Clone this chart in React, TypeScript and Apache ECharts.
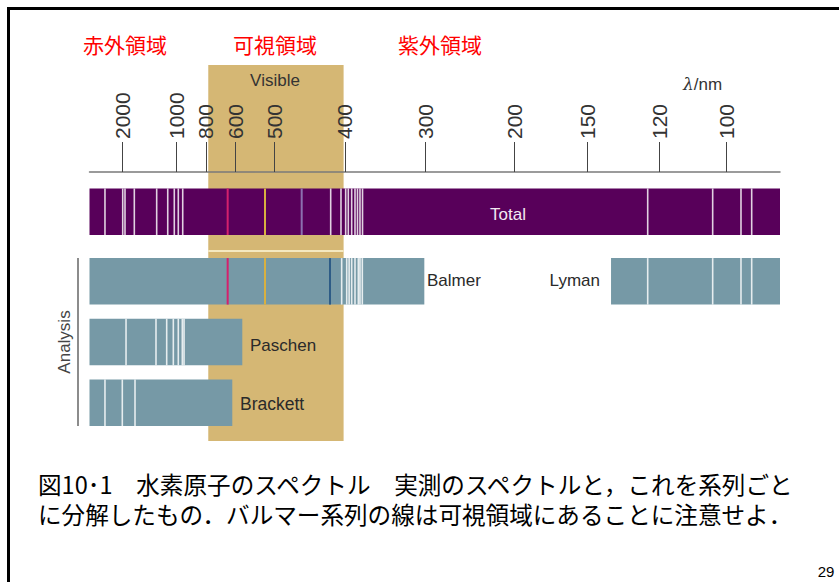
import React, { useEffect, useRef } from "react";
import * as echarts from "echarts";

// ---- data (positions along the spectrum strip, 0 = left end, 100 = right end) ----
const tickLabels = ["2000", "1000", "800", "600", "500", "400", "300", "200", "150", "120", "100"];
const tickPositions = [4.75, 12.63, 16.87, 21.17, 26.76, 37.0, 48.69, 61.52, 72.09, 82.52, 92.18];
const visibleRange = [17.2, 36.8];

const rows = ["Balmer", "Paschen", "Brackett"];

const totalRange = [0, 100];
const totalLines = [2.24, 4.81, 5.14, 6.49, 9.73, 11.33, 12.28, 12.86, 13.5, 34.93, 36.42, 37.1, 37.48, 37.97, 38.45, 38.81, 39.17, 39.54, 80.84, 90.25, 94.35, 95.9];
const totalColoredLines = [20.01, 25.42, 30.73];

const balmerRange = [0, 48.49];
const balmerLines = [36.52, 37.25, 37.6, 37.97, 38.45, 38.93, 39.17, 39.51];
const balmerColoredLines = [20.01, 25.42, 34.83];

const lymanRange = [75.53, 100];
const lymanLines = [80.84, 90.25, 94.35, 95.9];

const paschenRange = [0, 22.13];
const paschenLines = [5.29, 9.63, 11.18, 12.14, 12.86, 13.44, 13.69];

const brackettRange = [0, 20.68];
const brackettLines = [2.24, 4.75, 6.59];

const captionLines = [
  "図10･1　水素原子のスペクトル　実測のスペクトルと，これを系列ごと",
  "に分解したもの．バルマー系列の線は可視領域にあることに注意せよ．",
];

// ---- styles ----
const PURPLE = "#58005a";
const TEAL = "#7699a6";
const TAN = "#d5b774";
const WHITE_LINE = "rgba(255,255,255,0.82)";
const totalColors = ["#d4206c", "#d9b040", "#8c70b0"];
const balmerColors = ["#d4206c", "#d9b040", "#2e5c86"];
const BAR_RATIO = 0.766;
const LATIN = "'Liberation Sans', Arial, sans-serif";
const CJK = "'Noto Sans CJK JP', sans-serif";

function bandSeries(grid: number, range: number[], row: number, color: string, z = 2) {
  return {
    type: "custom",
    xAxisIndex: grid,
    yAxisIndex: grid,
    z,
    silent: true,
    data: [[range[0], range[1], row]],
    renderItem: (params: any, api: any) => {
      const s = api.coord([api.value(0), api.value(2)]);
      const e = api.coord([api.value(1), api.value(2)]);
      const h = api.size([0, 1])[1] * BAR_RATIO;
      return {
        type: "rect",
        shape: { x: s[0], y: s[1] - h / 2, width: e[0] - s[0], height: h },
        style: { fill: color },
      };
    },
  };
}

function lineSeries(grid: number, positions: number[], row: number, colors: string[] | string, width: number, z = 3) {
  return {
    type: "custom",
    xAxisIndex: grid,
    yAxisIndex: grid,
    z,
    silent: true,
    data: positions.map((p) => [p, row]),
    renderItem: (params: any, api: any) => {
      const c = api.coord([api.value(0), api.value(1)]);
      const h = api.size([0, 1])[1] * BAR_RATIO;
      const fill = Array.isArray(colors) ? colors[params.dataIndex] : colors;
      return {
        type: "rect",
        shape: { x: c[0] - width / 2, y: c[1] - h / 2, width, height: h },
        style: { fill },
      };
    },
  };
}

export default function App() {
  const ref = useRef<HTMLDivElement>(null);
  useEffect(() => {
    if (!ref.current) return;
    const chart = echarts.init(ref.current, undefined, { renderer: "svg" });
    const gridBase = { left: 89.5, right: 59 };
    const xBase = { type: "value", min: 0, max: 100, show: false };
    const option: any = {
      animation: false,
      backgroundColor: "#ffffff",
      grid: [
        { ...gridBase, top: 172, height: 20 },
        { ...gridBase, top: 65, height: 376 },
        { ...gridBase, top: 181.4, height: 60.7 },
        { ...gridBase, top: 251, height: 182.1 },
      ],
      xAxis: [
        {
          gridIndex: 0,
          type: "value",
          min: 0,
          max: 100,
          position: "top",
          z: 5,
          axisLine: { show: true, onZero: false, lineStyle: { color: "#7a7a7a", width: 1.5 } },
          axisTick: {
            show: true,
            customValues: tickPositions,
            length: 30,
            inside: false,
            lineStyle: { color: "#444", width: 1 },
          },
          axisLabel: {
            show: true,
            customValues: tickPositions,
            rotate: -90,
            margin: 33,
            fontSize: 21,
            fontFamily: LATIN,
            color: "#333",
            formatter: (v: number) => {
              const i = tickPositions.findIndex((p) => Math.abs(p - v) < 1e-6);
              return i >= 0 ? tickLabels[i] : "";
            },
          },
          splitLine: { show: false },
        },
        { ...xBase, gridIndex: 1 },
        { ...xBase, gridIndex: 2 },
        { ...xBase, gridIndex: 3 },
      ],
      yAxis: [
        { gridIndex: 0, type: "value", show: false },
        { gridIndex: 1, type: "value", min: 0, max: 1, show: false },
        { gridIndex: 2, type: "category", data: ["Total"], show: false },
        { gridIndex: 3, type: "category", data: rows, inverse: true, show: false },
      ],
      series: [
        // visible region
        {
          type: "custom",
          xAxisIndex: 1,
          yAxisIndex: 1,
          z: 1,
          silent: true,
          data: [[visibleRange[0], visibleRange[1]]],
          renderItem: (params: any, api: any) => {
            const a = api.coord([api.value(0), 1]);
            const b = api.coord([api.value(1), 0]);
            return {
              type: "rect",
              shape: { x: a[0], y: a[1], width: b[0] - a[0], height: b[1] - a[1] },
              style: { fill: TAN },
            };
          },
        },
        // pale divider inside visible region
        {
          type: "custom",
          xAxisIndex: 3,
          yAxisIndex: 3,
          z: 1.5,
          silent: true,
          data: [[visibleRange[0], visibleRange[1], 0]],
          renderItem: (params: any, api: any) => {
            const a = api.coord([api.value(0), 0]);
            const b = api.coord([api.value(1), 0]);
            const y = params.coordSys.y;
            return {
              type: "rect",
              shape: { x: a[0], y: y - 1, width: b[0] - a[0], height: 2 },
              style: { fill: "#f4e8c0" },
            };
          },
        },
        bandSeries(2, totalRange, 0, PURPLE),
        lineSeries(2, totalLines, 0, WHITE_LINE, 1.6),
        lineSeries(2, totalColoredLines, 0, totalColors, 2),
        bandSeries(3, balmerRange, rows.indexOf("Balmer"), TEAL),
        lineSeries(3, balmerLines, rows.indexOf("Balmer"), WHITE_LINE, 1.6),
        lineSeries(3, balmerColoredLines, rows.indexOf("Balmer"), balmerColors, 2),
        bandSeries(3, lymanRange, rows.indexOf("Balmer"), TEAL),
        lineSeries(3, lymanLines, rows.indexOf("Balmer"), WHITE_LINE, 1.6),
        bandSeries(3, paschenRange, rows.indexOf("Paschen"), TEAL),
        lineSeries(3, paschenLines, rows.indexOf("Paschen"), WHITE_LINE, 1.6),
        bandSeries(3, brackettRange, rows.indexOf("Brackett"), TEAL),
        lineSeries(3, brackettLines, rows.indexOf("Brackett"), WHITE_LINE, 1.6),
      ],
      graphic: [
        // slide frame
        { type: "line", shape: { x1: 7, y1: 8.5, x2: 839, y2: 8.5 }, style: { stroke: "#000", lineWidth: 3 }, z: 10 },
        { type: "line", shape: { x1: 8.5, y1: 7, x2: 8.5, y2: 582 }, style: { stroke: "#000", lineWidth: 3 }, z: 10 },
        // region headings
        { type: "text", x: 83, y: 44, style: { text: "赤外領域", fill: "#ff0000", font: `21px ${CJK}`, verticalAlign: "middle" }, z: 10 },
        { type: "text", x: 233, y: 44, style: { text: "可視領域", fill: "#ff0000", font: `21px ${CJK}`, verticalAlign: "middle" }, z: 10 },
        { type: "text", x: 398, y: 44, style: { text: "紫外領域", fill: "#ff0000", font: `21px ${CJK}`, verticalAlign: "middle" }, z: 10 },
        // chart texts
        { type: "text", x: 275, y: 80, style: { text: "Visible", fill: "#333", font: `17px ${LATIN}`, align: "center", verticalAlign: "middle" }, z: 10 },
        {
          type: "text",
          x: 683,
          y: 84,
          style: {
            text: "{i|λ}/nm",
            fill: "#333",
            font: `17px ${LATIN}`,
            verticalAlign: "middle",
            rich: { i: { fontStyle: "italic", fontSize: 17, fontFamily: "'DejaVu Serif', serif", fill: "#333" } },
          },
          z: 10,
        },
        { type: "text", x: 508, y: 214, style: { text: "Total", fill: "#f2e8f2", font: `17px ${LATIN}`, align: "center", verticalAlign: "middle" }, z: 10 },
        { type: "text", x: 427, y: 280, style: { text: "Balmer", fill: "#2a2a2a", font: `17px ${LATIN}`, verticalAlign: "middle" }, z: 10 },
        { type: "text", x: 600, y: 280, style: { text: "Lyman", fill: "#2a2a2a", font: `17px ${LATIN}`, align: "right", verticalAlign: "middle" }, z: 10 },
        { type: "text", x: 250, y: 345, style: { text: "Paschen", fill: "#2a2a2a", font: `17px ${LATIN}`, verticalAlign: "middle" }, z: 10 },
        { type: "text", x: 240, y: 404, style: { text: "Brackett", fill: "#2a2a2a", font: `17.5px ${LATIN}`, verticalAlign: "middle" }, z: 10 },
        { type: "text", x: 64, y: 342, rotation: Math.PI / 2, style: { text: "Analysis", fill: "#444", font: `17px ${LATIN}`, align: "center", verticalAlign: "middle" }, z: 10 },
        { type: "line", shape: { x1: 78, y1: 258, x2: 78, y2: 426 }, style: { stroke: "#666", lineWidth: 1.5 }, z: 10 },
        // caption
        {
          type: "text",
          x: 38,
          y: 499,
          style: { text: captionLines.join("\n"), fill: "#000", font: `23.6px ${CJK}`, lineHeight: 30, verticalAlign: "middle" },
          z: 10,
        },
        { type: "text", x: 826, y: 571, style: { text: "29", fill: "#000", font: `15px ${LATIN}`, align: "center", verticalAlign: "middle" }, z: 10 },
      ],
    };
    chart.setOption(option);
    return () => chart.dispose();
  }, []);
  return <div ref={ref} style={{ position: "fixed", left: 0, top: 0, width: 839, height: 582 }} />;
}
